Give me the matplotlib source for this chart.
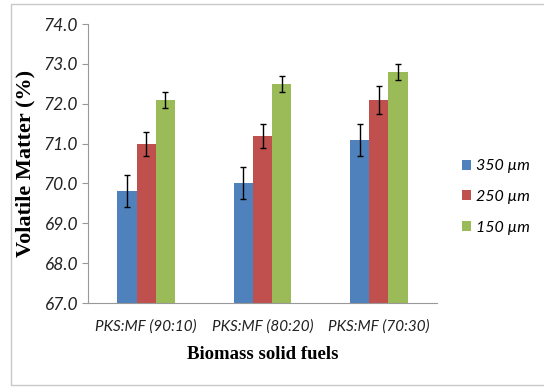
import numpy as np
import matplotlib.pyplot as plt
from matplotlib.patches import Rectangle

categories = ['PKS:MF (90:10)', 'PKS:MF (80:20)', 'PKS:MF (70:30)']
series = ['350 µm', '250 µm', '150 µm']
vals_350 = [69.8, 70.0, 71.1]
vals_250 = [71.0, 71.2, 72.1]
vals_150 = [72.1, 72.5, 72.8]
err_350 = [0.4, 0.4, 0.4]
err_250 = [0.3, 0.3, 0.35]
err_150 = [0.2, 0.2, 0.2]
colors = ['#4F81BD', '#C0504D', '#9BBB59']

fig = plt.figure(figsize=(5.44, 3.87), dpi=100)
ax = fig.add_axes([88/544, 1 - 303/387, (437 - 88)/544, (303 - 24)/387])

# thin frame round the whole picture
fig.patches.append(Rectangle((11/544, 2/387), 540/544, 381/387, transform=fig.transFigure,
                             fill=False, edgecolor='#c8c8c8', linewidth=1))

x = np.arange(len(categories))
w = 0.165
for i, (v, e) in enumerate([(vals_350, err_350), (vals_250, err_250), (vals_150, err_150)]):
    ax.bar(x + (i - 1) * w, np.array(v) - 67, w, bottom=67, color=colors[i], label=series[i],
           yerr=e, capsize=2.5, error_kw=dict(elinewidth=1, ecolor='black', capthick=1))

ax.set_xlim(-0.5, 2.5)
ax.set_ylim(67, 74)
ax.set_yticks(np.arange(67, 74.1, 1))
ax.set_yticklabels([f'{t:.1f}' for t in np.arange(67, 74.1, 1)], fontstyle='italic',
                   fontsize=12.5, family='Lato', color='#222222')
ax.set_xticks(x)
ax.set_xticklabels(categories, fontstyle='italic', fontsize=11, family='Lato', color='#222222')
ax.tick_params(axis='x', length=0, pad=12)
ax.tick_params(axis='y', length=4, color='#999999', pad=3)
for s in ['top', 'right']:
    ax.spines[s].set_visible(False)
for s in ['left', 'bottom']:
    ax.spines[s].set_color('#999999')

ax.set_ylabel('Volatile Matter (%)', fontsize=16, fontweight='bold', family='Liberation Serif', labelpad=6)
ax.set_xlabel('Biomass solid fuels', fontsize=13.5, fontweight='bold', family='Liberation Serif', labelpad=9)

leg = ax.legend(loc='center left', bbox_to_anchor=(1.03, 0.38), frameon=False,
                prop={'family': 'Lato', 'style': 'italic', 'size': 11.5},
                handlelength=0.6, handleheight=0.6, handletextpad=0.3, labelspacing=1.05)

fig.savefig('out.png', dpi=100)
